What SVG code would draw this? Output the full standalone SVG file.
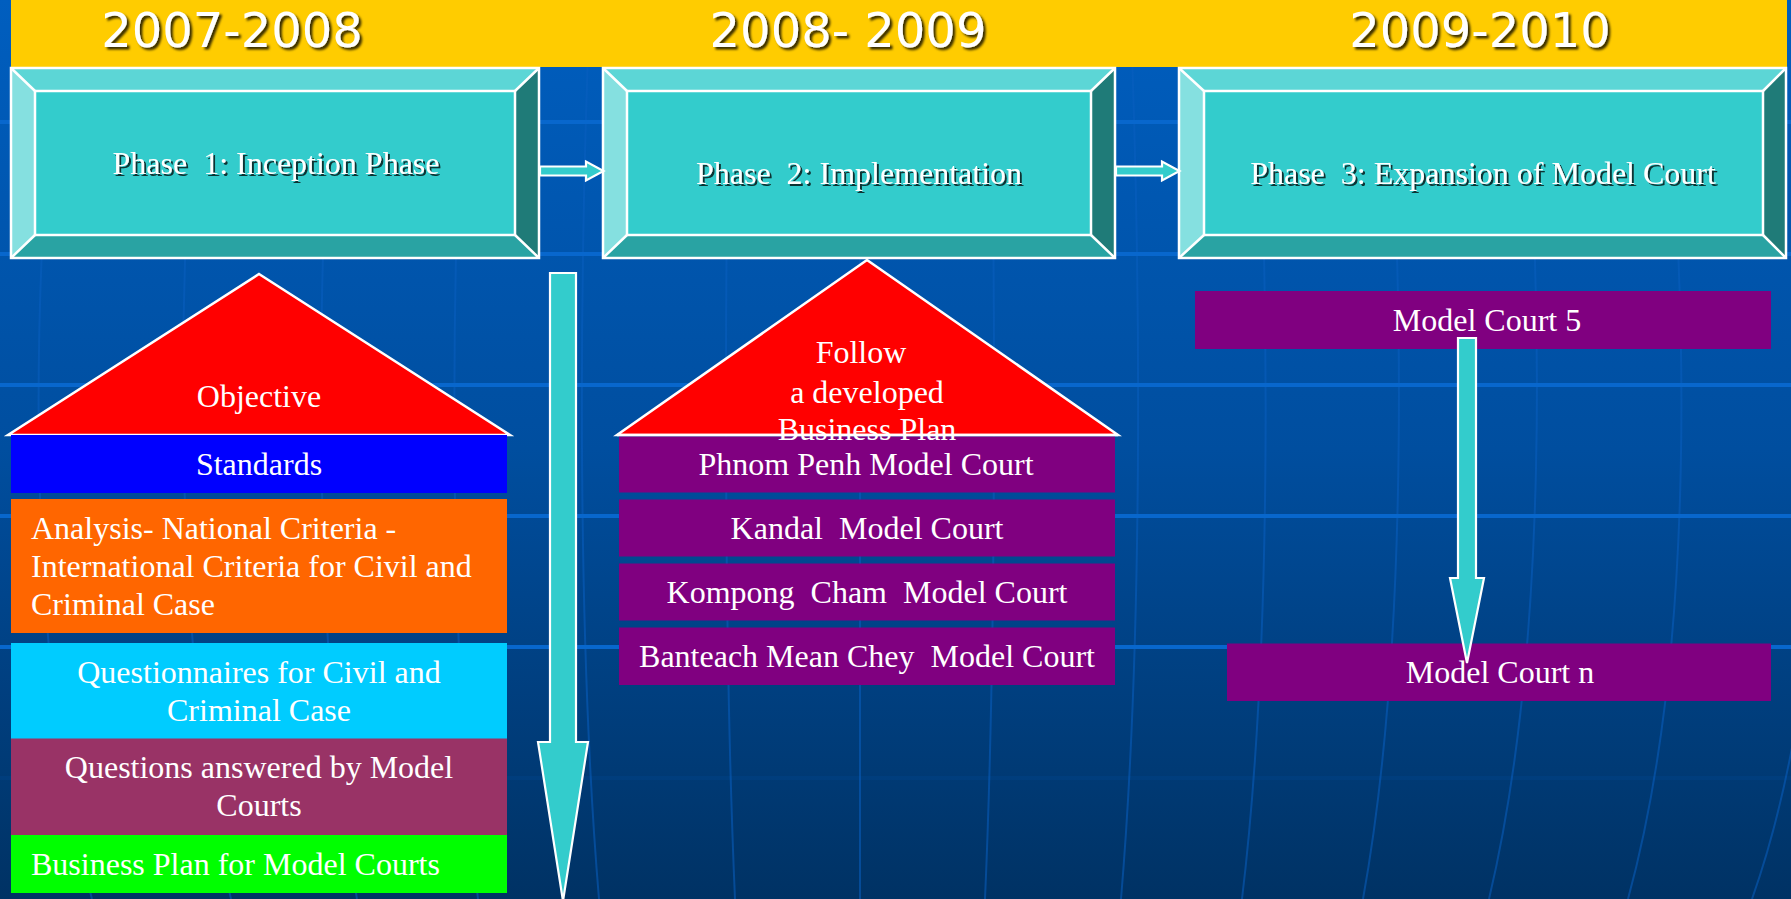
<svg xmlns="http://www.w3.org/2000/svg" width="1791" height="899" viewBox="0 0 1791 899">
<defs>
<linearGradient id="bg" x1="0" y1="0" x2="0" y2="1">
<stop offset="0" stop-color="#005EBF"/>
<stop offset="0.5" stop-color="#004E9F"/>
<stop offset="1" stop-color="#003264"/>
</linearGradient>
<filter id="sh" x="-10%" y="-30%" width="120%" height="160%">
<feDropShadow dx="2" dy="2" stdDeviation="0.6" flood-color="#000" flood-opacity="0.75"/>
</filter>
<filter id="shy" x="-10%" y="-30%" width="120%" height="160%">
<feDropShadow dx="2.5" dy="2.5" stdDeviation="0.8" flood-color="#000" flood-opacity="0.8"/>
</filter>
</defs>
<style>
.year{font-family:"DejaVu Sans",sans-serif;font-size:48px;fill:#fff;text-anchor:middle;white-space:pre;}
.ph{font-family:"Liberation Serif","Times New Roman",serif;font-size:32px;fill:#fff;text-anchor:middle;white-space:pre;}
.t{font-family:"Liberation Serif","Times New Roman",serif;font-size:32px;fill:#fff;text-anchor:middle;white-space:pre;}
.tl{font-family:"Liberation Serif","Times New Roman",serif;font-size:32px;fill:#fff;white-space:pre;}
.bt{fill:#5CD6D6}.bl{fill:#85E0E0}.br{fill:#1F7B78}.bb{fill:#29A3A3}.bc{fill:#33CCCC}
.ol{fill:none;stroke:#fff;stroke-width:2.5;stroke-linejoin:miter}
.tri{fill:#FF0000;stroke:#fff;stroke-width:2.5;stroke-linejoin:miter}
.pur{fill:#800080}
.arr{fill:#33CCCC;stroke:#fff;stroke-width:2.2;stroke-linejoin:miter}
.hl{stroke:#0867CD;stroke-width:4}
.vl{fill:none;stroke:#0A5EC0;stroke-width:2;opacity:0.55}
</style>

<g id="background">
<rect x="0" y="0" width="1791" height="899" fill="url(#bg)"/>
<g id="meridians">
<path class="vl" d="M860 0 L860 899"/>
<path class="vl" d="M990 0 C996 300 996 650 985 899"/>
<path class="vl" d="M1130 0 C1142 300 1142 650 1121 899"/>
<path class="vl" d="M1255 0 C1270 300 1272 650 1242 899"/>
<path class="vl" d="M1385 0 C1405 300 1408 650 1363 899"/>
<path class="vl" d="M1520 0 C1545 300 1548 650 1489 899"/>
<path class="vl" d="M1660 0 C1690 300 1696 650 1628 899"/>
<path class="vl" d="M1800 0 C1830 300 1840 650 1752 899"/>
<path class="vl" d="M730 0 C724 300 724 650 735 899"/>
<path class="vl" d="M590 0 C578 300 578 650 599 899"/>
<path class="vl" d="M465 0 C450 300 448 650 478 899"/>
<path class="vl" d="M335 0 C315 300 312 650 357 899"/>
<path class="vl" d="M200 0 C175 300 172 650 231 899"/>
<path class="vl" d="M60 0 C30 300 24 650 92 899"/>
</g>
<line class="hl" x1="0" y1="122" x2="1791" y2="122"/>
<line class="hl" x1="0" y1="254" x2="1791" y2="254"/>
<line class="hl" x1="0" y1="385" x2="1791" y2="385"/>
<line class="hl" x1="0" y1="516" x2="1791" y2="516"/>
<line class="hl" x1="0" y1="647" x2="1791" y2="647"/>
<line class="hl" x1="0" y1="778" x2="1791" y2="778" opacity="0.1"/>
</g>

<g id="year-band">
<rect x="11" y="0" width="1776" height="67" fill="#FFCC00"/>
<text class="year" x="232" y="47" filter="url(#shy)">2007-2008</text>
<text class="year" x="848" y="47" filter="url(#shy)">2008- 2009</text>
<text class="year" x="1480" y="47" filter="url(#shy)">2009-2010</text>
</g>

<g id="phase1">
<polygon class="bt" points="11,68 539,68 515,91 35,91"/>
<polygon class="bl" points="11,68 35,91 35,235 11,258"/>
<polygon class="br" points="539,68 539,258 515,235 515,91"/>
<polygon class="bb" points="11,258 35,235 515,235 539,258"/>
<rect class="bc" x="35" y="91" width="480" height="144"/>
<rect class="ol" x="11" y="68" width="528" height="190"/>
<rect class="ol" x="35" y="91" width="480" height="144"/>
<path class="ol" d="M11 68 L35 91 M539 68 L515 91 M11 258 L35 235 M539 258 L515 235"/>
<text class="ph" x="276" y="174" filter="url(#sh)">Phase  1: Inception Phase</text>
</g>

<g id="phase2">
<polygon class="bt" points="603,68 1115,68 1091,91 627,91"/>
<polygon class="bl" points="603,68 627,91 627,235 603,258"/>
<polygon class="br" points="1115,68 1115,258 1091,235 1091,91"/>
<polygon class="bb" points="603,258 627,235 1091,235 1115,258"/>
<rect class="bc" x="627" y="91" width="464" height="144"/>
<rect class="ol" x="603" y="68" width="512" height="190"/>
<rect class="ol" x="627" y="91" width="464" height="144"/>
<path class="ol" d="M603 68 L627 91 M1115 68 L1091 91 M603 258 L627 235 M1115 258 L1091 235"/>
<text class="ph" x="859" y="184" filter="url(#sh)">Phase  2: Implementation</text>
</g>

<g id="phase3">
<polygon class="bt" points="1179,68 1786,68 1763,91 1204,91"/>
<polygon class="bl" points="1179,68 1204,91 1204,235 1179,258"/>
<polygon class="br" points="1786,68 1786,258 1763,235 1763,91"/>
<polygon class="bb" points="1179,258 1204,235 1763,235 1786,258"/>
<rect class="bc" x="1204" y="91" width="559" height="144"/>
<rect class="ol" x="1179" y="68" width="607" height="190"/>
<rect class="ol" x="1204" y="91" width="559" height="144"/>
<path class="ol" d="M1179 68 L1204 91 M1786 68 L1763 91 M1179 258 L1204 235 M1786 258 L1763 235"/>
<text class="ph" x="1483" y="184" filter="url(#sh)">Phase  3: Expansion of Model Court</text>
</g>

<g id="objective">
<polygon class="tri" points="259,274 510,435 8,435"/>
<text class="t" x="259" y="407">Objective</text>
</g>
<g id="standards">
<rect x="11" y="435" width="496" height="58" fill="#0000FF"/>
<text class="t" x="259" y="475">Standards</text>
</g>
<g id="analysis">
<rect x="11" y="499" width="496" height="134" fill="#FF6600"/>
<text class="tl" x="31" y="539">Analysis- National Criteria -</text>
<text class="tl" x="31" y="577">International Criteria for Civil and</text>
<text class="tl" x="31" y="615">Criminal Case</text>
</g>
<g id="questionnaires">
<rect x="11" y="643" width="496" height="96" fill="#00CCFF"/>
<text class="t" x="259" y="683">Questionnaires for Civil and</text>
<text class="t" x="259" y="721">Criminal Case</text>
</g>
<g id="questions-answered">
<rect x="11" y="738.5" width="496" height="97" fill="#993366"/>
<text class="t" x="259" y="778">Questions answered by Model</text>
<text class="t" x="259" y="816">Courts</text>
</g>
<g id="business-plan">
<rect x="11" y="835" width="496" height="58" fill="#00FF00"/>
<text class="tl" x="31" y="875">Business Plan for Model Courts</text>
</g>

<g id="follow-plan">
<polygon class="tri" points="867,260 1118,435 617,435"/>
</g>
<g id="phnom-penh">
<rect class="pur" x="619" y="436.5" width="496" height="56"/>
<text class="t" x="866" y="475">Phnom Penh Model Court</text>
</g>
<g id="follow-plan-text">
<text class="t" x="861" y="363">Follow</text>
<text class="t" x="867" y="403">a developed</text>
<text class="t" x="867" y="440">Business Plan</text>
<line x1="617" y1="435" x2="1118" y2="435" stroke="#fff" stroke-width="2.5"/>
</g>
<g id="kandal">
<rect class="pur" x="619" y="499.5" width="496" height="57"/>
<text class="t" x="867" y="539">Kandal  Model Court</text>
</g>
<g id="kompong-cham">
<rect class="pur" x="619" y="563.5" width="496" height="57"/>
<text class="t" x="867" y="603">Kompong  Cham  Model Court</text>
</g>
<g id="banteach-mean-chey">
<rect class="pur" x="619" y="627.5" width="496" height="57.5"/>
<text class="t" x="867" y="667">Banteach Mean Chey  Model Court</text>
</g>

<g id="model-court-5">
<rect class="pur" x="1195" y="291" width="576" height="58"/>
<text class="t" x="1487" y="331">Model Court 5</text>
</g>
<g id="model-court-n">
<rect class="pur" x="1227" y="643.5" width="544" height="57.5"/>
<text class="t" x="1500" y="683">Model Court n</text>
</g>

<g id="connectors">
<polygon class="arr" points="540,166.5 586,166.5 586,161.5 603.5,171 586,180.5 586,175.5 540,175.5"/>
<polygon class="arr" points="1116,166.5 1162,166.5 1162,161.5 1179.5,171 1162,180.5 1162,175.5 1116,175.5"/>
<polygon class="arr" points="550,273 576,273 576,742 588,742 563,901 538,742 550,742"/>
<polygon class="arr" points="1458,338 1476,338 1476,578 1484,578 1467,663 1450,578 1458,578"/>
</g>
</svg>
